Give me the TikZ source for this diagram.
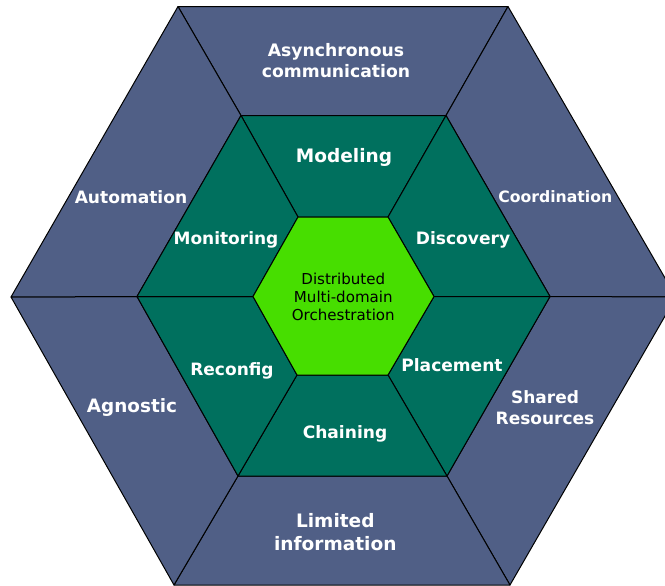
\documentclass[tikz,border=0pt]{standalone}
\usepackage{fontspec}
\setmainfont{DejaVu Sans}
\definecolor{outerblue}{HTML}{505F86}
\definecolor{midgreen}{HTML}{00705E}
\definecolor{coregreen}{HTML}{47DE00}
\tikzset{
  outerseg/.style={fill=outerblue,draw=black,line width=0.75pt,line join=round},
  midseg/.style={fill=midgreen,draw=black,line width=0.75pt,line join=round},
  coreseg/.style={fill=coregreen,draw=black,line width=0.75pt,line join=round},
  lab/.style={text=white,font=\bfseries,align=center,inner sep=0pt,text depth=0pt},
}
\begin{document}
\begin{tikzpicture}[x=0.75pt,y=-0.75pt]
\useasboundingbox (0,0) rectangle (665,586);
\clip (0,0) rectangle (665,586);
% outer vertices
\coordinate (o1) at (178,6.5);
\coordinate (o2) at (508,6.5);
\coordinate (o3) at (676,297);
\coordinate (o4) at (510,585);
\coordinate (o5) at (174,585);
\coordinate (o6) at (11,297);
% middle vertices
\coordinate (m1) at (241,115.5);
\coordinate (m2) at (446,115.5);
\coordinate (m3) at (550,296.5);
\coordinate (m4) at (447,476);
\coordinate (m5) at (238,476);
\coordinate (m6) at (137,296.5);
% inner vertices
\coordinate (c1) at (298,217);
\coordinate (c2) at (388,217);
\coordinate (c3) at (434,296.5);
\coordinate (c4) at (388,375);
\coordinate (c5) at (297,375);
\coordinate (c6) at (253,296.5);
% outer ring
\draw[outerseg] (o1)--(o2)--(m2)--(m1)--cycle;
\draw[outerseg] (o2)--(o3)--(m3)--(m2)--cycle;
\draw[outerseg] (o3)--(o4)--(m4)--(m3)--cycle;
\draw[outerseg] (o4)--(o5)--(m5)--(m4)--cycle;
\draw[outerseg] (o5)--(o6)--(m6)--(m5)--cycle;
\draw[outerseg] (o6)--(o1)--(m1)--(m6)--cycle;
% middle ring
\draw[midseg] (m1)--(m2)--(c2)--(c1)--cycle;
\draw[midseg] (m2)--(m3)--(c3)--(c2)--cycle;
\draw[midseg] (m3)--(m4)--(c4)--(c3)--cycle;
\draw[midseg] (m4)--(m5)--(c5)--(c4)--cycle;
\draw[midseg] (m5)--(m6)--(c6)--(c5)--cycle;
\draw[midseg] (m6)--(m1)--(c1)--(c6)--cycle;
% core
\draw[coreseg] (c1)--(c2)--(c3)--(c4)--(c5)--(c6)--cycle;
% labels
\node[lab,font=\bfseries\fontsize{12.9}{15.75}\selectfont] (async) at (336,60.5) {Asynchronous\\communication};
\node[lab,font=\bfseries\fontsize{12.8}{15}\selectfont] (autom) at (131,197) {Automation};
\node[lab,font=\bfseries\fontsize{11.75}{14}\selectfont] (coord) at (555.3,197) {Coordination};
\node[lab,font=\bfseries\fontsize{13.8}{16}\selectfont] (agnos) at (132,405.8) {Agnostic};
\node[lab,font=\bfseries\fontsize{12.75}{15.75}\selectfont] (share) at (545,407.7) {Shared\\Resources};
\node[lab,font=\bfseries\fontsize{13.9}{17.25}\selectfont] (limit) at (335.3,532.4) {Limited\\information};
\node[lab,font=\bfseries\fontsize{13.9}{16}\selectfont] (model) at (344,155.7) {Modeling};
\node[lab,font=\bfseries\fontsize{12.75}{15}\selectfont] (monit) at (226,238.2) {Monitoring};
\node[lab,font=\bfseries\fontsize{12.8}{15}\selectfont] (disco) at (463,238.2) {Discovery};
\node[lab,font=\bfseries\fontsize{12.8}{15}\selectfont] (place) at (452,365.2) {Placement};
\node[lab,font=\bfseries\fontsize{12.75}{15}\selectfont] (recon) at (232,369.2) {Reconfig};
\node[lab,font=\bfseries\fontsize{12.8}{15}\selectfont] (chain) at (345,432.2) {Chaining};
\node[inner sep=0pt,align=center,text=black,font=\fontsize{11.3}{13.6}\selectfont] (core) at (343.3,296.8) {Distributed\\Multi-domain\\Orchestration};
\end{tikzpicture}
\end{document}
